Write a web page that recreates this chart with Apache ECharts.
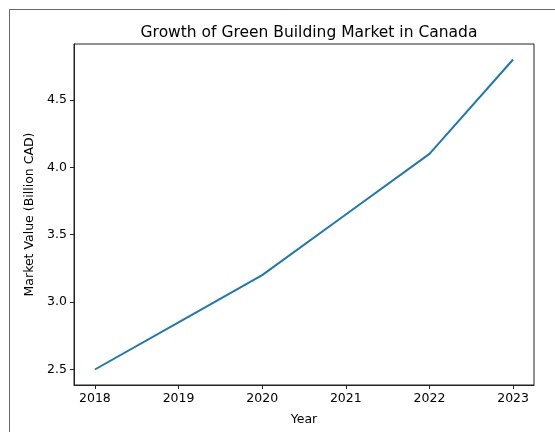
<!DOCTYPE html>
<html>
<head>
<meta charset="utf-8">
<script src="https://cdn.jsdelivr.net/npm/echarts@6/dist/echarts.min.js"></script>
<style>
  html, body { margin: 0; padding: 0; background: #fff; }
  #chart { width: 555px; height: 432px; }
</style>
</head>
<body>
<div id="chart"></div>
<script>
// data
const YEARS = [2018, 2019, 2020, 2021, 2022, 2023];
const MARKET_VALUE = [2.5, 2.85, 3.2, 3.65, 4.1, 4.8];
const Y_TICKS = [2.5, 3.0, 3.5, 4.0, 4.5];

const FONT = "DejaVu Sans";
const chart = echarts.init(document.getElementById("chart"));

// matplotlib style 5% margins
const xPad = (YEARS[YEARS.length - 1] - YEARS[0]) * 0.05;
const yMin = Math.min(...MARKET_VALUE), yMax = Math.max(...MARKET_VALUE);
const yPad = (yMax - yMin) * 0.05;

chart.setOption({
  animation: false,
  textStyle: { fontFamily: FONT },
  graphic: [
    // outer frame of the screenshot
    { type: "line", shape: { x1: 9.5, y1: 9.5, x2: 560, y2: 9.5 }, style: { stroke: "#666", lineWidth: 1 } },
    { type: "line", shape: { x1: 9.5, y1: 9.5, x2: 9.5, y2: 440 }, style: { stroke: "#666", lineWidth: 1 } },
  ],
  title: {
    text: "Growth of Green Building Market in Canada",
    left: 304, top: 20, textAlign: "center",
    textStyle: { fontFamily: FONT, fontSize: 15.5, fontWeight: "normal", color: "#000" },
  },
  grid: {
    left: 74, right: 21, top: 44, bottom: 47,
    show: true, borderColor: "#222", borderWidth: 1, backgroundColor: "#fff",
  },
  xAxis: {
    type: "value",
    min: YEARS[0] - xPad,
    max: YEARS[YEARS.length - 1] + xPad,
    name: "Year",
    nameLocation: "middle",
    nameGap: 28,
    nameTextStyle: { fontFamily: FONT, fontSize: 12.5, color: "#000" },
    axisLine: { show: true, lineStyle: { color: "#222", width: 1 } },
    axisTick: { show: true, length: 4, customValues: YEARS, lineStyle: { color: "#222" } },
    axisLabel: {
      customValues: YEARS, margin: 7,
      fontFamily: FONT, fontSize: 12.5, color: "#000",
      formatter: (v) => String(v),
    },
    splitLine: { show: false },
  },
  yAxis: {
    type: "value",
    min: yMin - yPad,
    max: yMax + yPad,
    name: "Market Value (Billion CAD)",
    nameLocation: "middle",
    nameGap: 36,
    nameTextStyle: { fontFamily: FONT, fontSize: 12.5, color: "#000" },
    axisLine: { show: true, lineStyle: { color: "#222", width: 1 } },
    axisTick: { show: true, length: 4, customValues: Y_TICKS, lineStyle: { color: "#222" } },
    axisLabel: {
      customValues: Y_TICKS, margin: 7,
      fontFamily: FONT, fontSize: 12.5, color: "#000",
      formatter: (v) => v.toFixed(1),
    },
    splitLine: { show: false },
  },
  series: [
    {
      type: "line",
      data: YEARS.map((y, i) => [y, MARKET_VALUE[i]]),
      showSymbol: false,
      lineStyle: { color: "#1f77b4", width: 2 },
      itemStyle: { color: "#1f77b4" },
    },
  ],
});
</script>
</body>
</html>
